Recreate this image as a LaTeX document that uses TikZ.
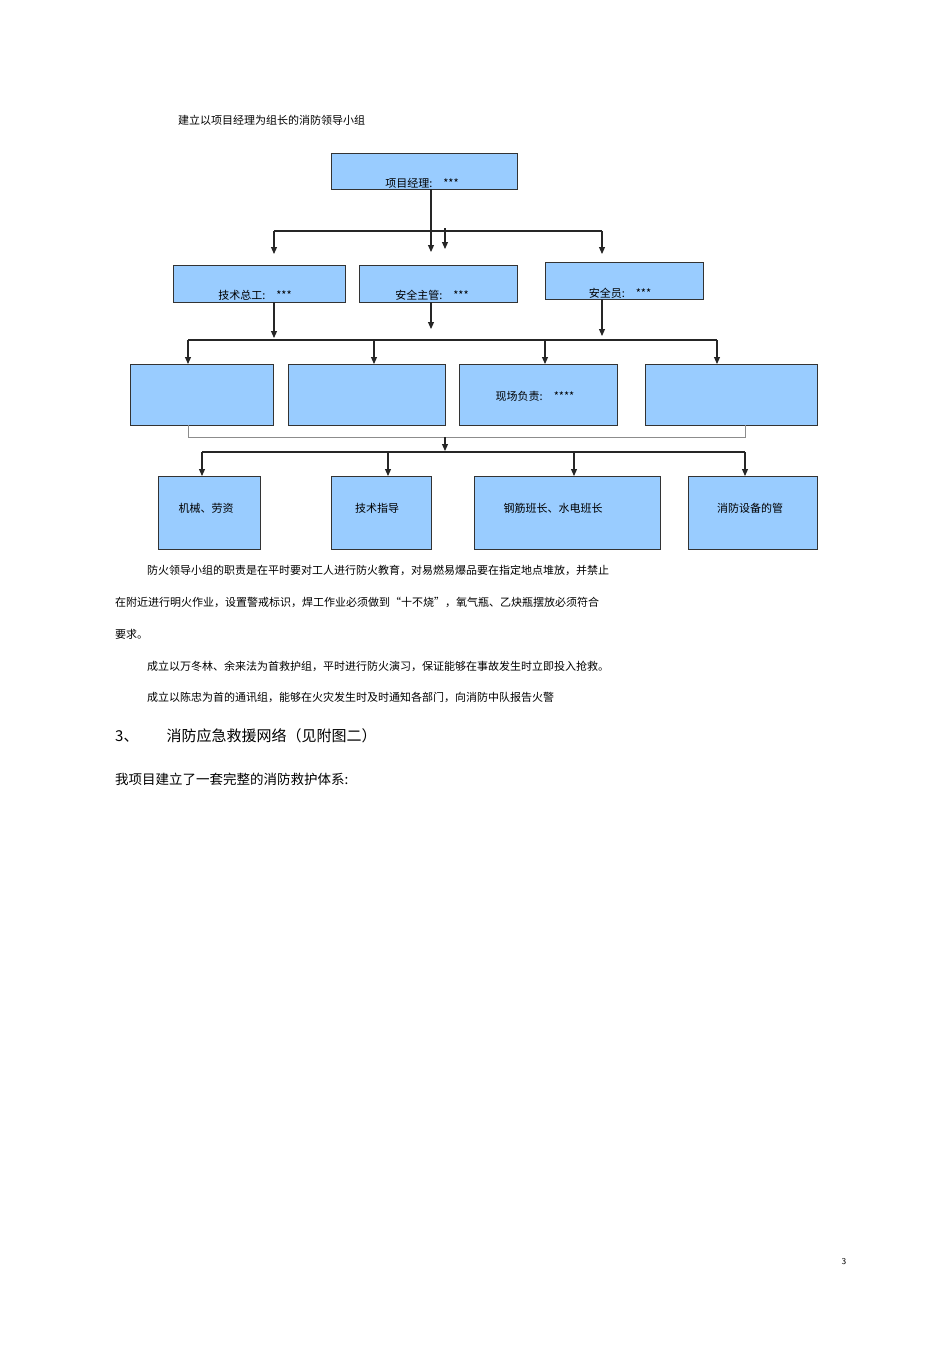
\documentclass[tikz,border=0pt]{standalone}
\usepackage{fontspec}
\newfontfamily\cjk{Noto Sans CJK SC}
\usetikzlibrary{arrows.meta}
\begin{document}
\begin{tikzpicture}[x=1pt,y=-1pt,
  bx/.style={draw=black!80,line width=0.8pt,fill=boxblue},
  ln/.style={line width=1.1pt,black!85},
  ar/.style={ln,-{Triangle[length=7pt,width=6pt]}},
  lbl/.style={font=\cjk\fontsize{11}{13}\selectfont,inner sep=0pt},
  txt/.style={font=\cjk\fontsize{11}{13}\selectfont,anchor=west,inner sep=0pt}]
\definecolor{boxblue}{HTML}{99CCFF}
\useasboundingbox (0,0) rectangle (950,1345);
% boxes
\draw[bx] (331,153) rectangle (517,189);
\node[lbl] (pm) at (422,183) {项目经理:\quad ***};
\coordinate (pmb) at (431,189);
\draw[bx] (173,265) rectangle (345,302);
\node[lbl] (a) at (255,295) {技术总工:\quad ***};
\draw[bx] (359,265) rectangle (517,302);
\node[lbl] (b) at (432,295) {安全主管:\quad ***};
\draw[bx] (545,262) rectangle (703,299);
\node[lbl] (c) at (620,293) {安全员:\quad ***};
\draw[bx] (130,364) rectangle (273,425);
\draw[bx] (288,364) rectangle (445,425);
\draw[bx] (459,364) rectangle (617,425);
\node[lbl] (m) at (535,396) {现场负责:\quad ****};
\draw[bx] (645,364) rectangle (817,425);
\draw[bx] (158,476) rectangle (260,549);
\node[lbl] (w1) at (206,508) {机械、劳资};
\draw[bx] (331,476) rectangle (431,549);
\node[lbl] (w2) at (377,508) {技术指导};
\draw[bx] (474,476) rectangle (660,549);
\node[lbl] (w3) at (553,508) {钢筋班长、水电班长};
\draw[bx] (688,476) rectangle (817,549);
\node[lbl] (w4) at (750,508) {消防设备的管};
% connectors level 1
\draw[ar] (pmb) -- (431,252);
\draw[ln] (274,231) -- (602,231);
\draw[ar] (274,231) -- (274,254);
\draw[ar] (445,228) -- (445,249);
\draw[ar] (602,231) -- (602,254);
% level 2
\draw[ar] (274,302) -- (274,338);
\draw[ar] (431,302) -- (431,329);
\draw[ar] (602,299) -- (602,336);
\draw[ln] (188,340) -- (717,340);
\foreach \x in {188,374,545,717} \draw[ar] (\x,340) -- (\x,364);
% level 3
\draw[line width=1pt,black!45] (188,425) -- (188,437) -- (745,437) -- (745,425);
\draw[ar] (445,437) -- (445,451);
\draw[ln] (202,452) -- (745,452);
\foreach \x in {202,388,574,745} \draw[ar] (\x,452) -- (\x,476);
% text
\node[txt] (t0) at (178,120) {建立以项目经理为组长的消防领导小组};
\node[txt] (t1) at (147,570) {防火领导小组的职责是在平时要对工人进行防火教育，对易燃易爆品要在指定地点堆放，并禁止};
\node[txt] (t2) at (115,602) {在附近进行明火作业，设置警戒标识，焊工作业必须做到“十不烧”，氧气瓶、乙炔瓶摆放必须符合};
\node[txt] (t3) at (115,634) {要求。};
\node[txt] (t4) at (147,666) {成立以万冬林、余来法为首救护组，平时进行防火演习，保证能够在事故发生时立即投入抢救。};
\node[txt] (t5) at (147,697) {成立以陈忠为首的通讯组，能够在火灾发生时及时通知各部门，向消防中队报告火警};
\node[txt,font=\cjk\fontsize{15}{17}\selectfont] (h) at (115,736) {3、\hspace{28pt}消防应急救援网络（见附图二）};
\node[txt,font=\cjk\fontsize{13.5}{16}\selectfont] (t6) at (115,779) {我项目建立了一套完整的消防救护体系:};
\node[font=\sffamily\fontsize{9}{11}\selectfont] (pg) at (844,1262) {3};
\end{tikzpicture}
\end{document}
